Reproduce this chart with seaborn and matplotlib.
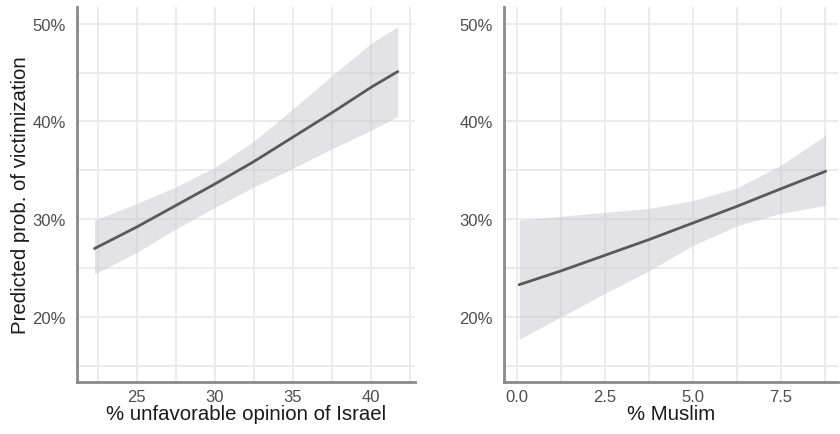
import numpy as np
import pandas as pd
import matplotlib
matplotlib.use("Agg")
import matplotlib.pyplot as plt
from matplotlib.ticker import FuncFormatter, MultipleLocator
import seaborn as sns

# Predicted probability of victimization (%) with 95% confidence band
israel_x = [22.3, 25.0, 27.5, 30.0, 32.5, 35.0, 37.5, 40.0, 41.7]
israel_fit = [27.0, 29.2, 31.4, 33.6, 35.9, 38.4, 40.9, 43.5, 45.1]
israel_lo = [24.4, 26.6, 29.0, 31.2, 33.3, 35.2, 37.2, 39.1, 40.5]
israel_hi = [29.9, 31.6, 33.3, 35.3, 38.0, 41.3, 44.7, 48.0, 49.7]

muslim_x = [0.07, 1.25, 2.5, 3.75, 5.0, 6.25, 7.5, 8.78]
muslim_fit = [23.3, 24.7, 26.3, 27.9, 29.6, 31.3, 33.1, 34.9]
muslim_lo = [17.7, 20.0, 22.4, 24.7, 27.3, 29.3, 30.6, 31.4]
muslim_hi = [29.9, 30.3, 30.7, 31.1, 31.9, 33.2, 35.5, 38.6]

x_labels = ["% unfavorable opinion of Israel", "% Muslim"]
y_label = "Predicted prob. of victimization"

sns.set_theme(style="white")
plt.rcParams["font.family"] = ["Liberation Sans", "DejaVu Sans"]

fig = plt.figure(figsize=(8.4, 4.35), dpi=100)
W, H = 840, 435
ax1 = fig.add_axes([77 / W, 1 - 383 / H, (415 - 77) / W, (383 - 8) / H])
ax2 = fig.add_axes([504 / W, 1 - 383 / H, (838 - 504) / W, (383 - 8) / H])

panels = [
    (ax1, israel_x, israel_fit, israel_lo, israel_hi, (21.18, 42.8), 5, 2.5, "{:.0f}"),
    (ax2, muslim_x, muslim_fit, muslim_lo, muslim_hi, (-0.36, 9.13), 2.5, 1.25, "{:.1f}"),
]

for i, (ax, xs, fit, lo, hi, xlim, major, minor, fmt) in enumerate(panels):
    df = pd.DataFrame({"x": xs, "fit": fit, "lo": lo, "hi": hi})
    ax.fill_between(df["x"], df["lo"], df["hi"], color="#c9c9cd", alpha=0.5,
                    linewidth=0, zorder=2)
    sns.lineplot(data=df, x="x", y="fit", ax=ax, color="#595959", linewidth=2,
                 zorder=3)
    ax.set_xlim(*xlim)
    ax.set_ylim(13.35, 51.7)
    ax.xaxis.set_major_locator(MultipleLocator(major))
    ax.xaxis.set_minor_locator(MultipleLocator(minor))
    ax.yaxis.set_major_locator(MultipleLocator(10))
    ax.yaxis.set_minor_locator(MultipleLocator(5))
    ax.xaxis.set_major_formatter(FuncFormatter(lambda v, p, f=fmt: f.format(v)))
    ax.yaxis.set_major_formatter(FuncFormatter(lambda v, p: f"{v:.0f}%"))
    ax.grid(True, which="both", color="#ebebeb", linewidth=1.4, zorder=0)
    ax.set_axisbelow(True)
    for s in ["top", "right"]:
        ax.spines[s].set_visible(False)
    for s in ["left", "bottom"]:
        ax.spines[s].set_color("#8a8a8e")
        ax.spines[s].set_linewidth(2)
    ax.tick_params(axis="both", which="both", length=0, labelsize=12,
                   labelcolor="#4d4d4d")
    ax.tick_params(axis="x", pad=5)
    ax.tick_params(axis="y", pad=8)
    ax.set_xlabel(x_labels[i], fontsize=14.7, color="#1a1a1a", labelpad=0)
    if i == 0:
        ax.set_ylabel(y_label, fontsize=14.7, color="#1a1a1a", labelpad=2)
    else:
        ax.set_ylabel("")

fig.savefig("out.png", dpi=100, facecolor="white")
